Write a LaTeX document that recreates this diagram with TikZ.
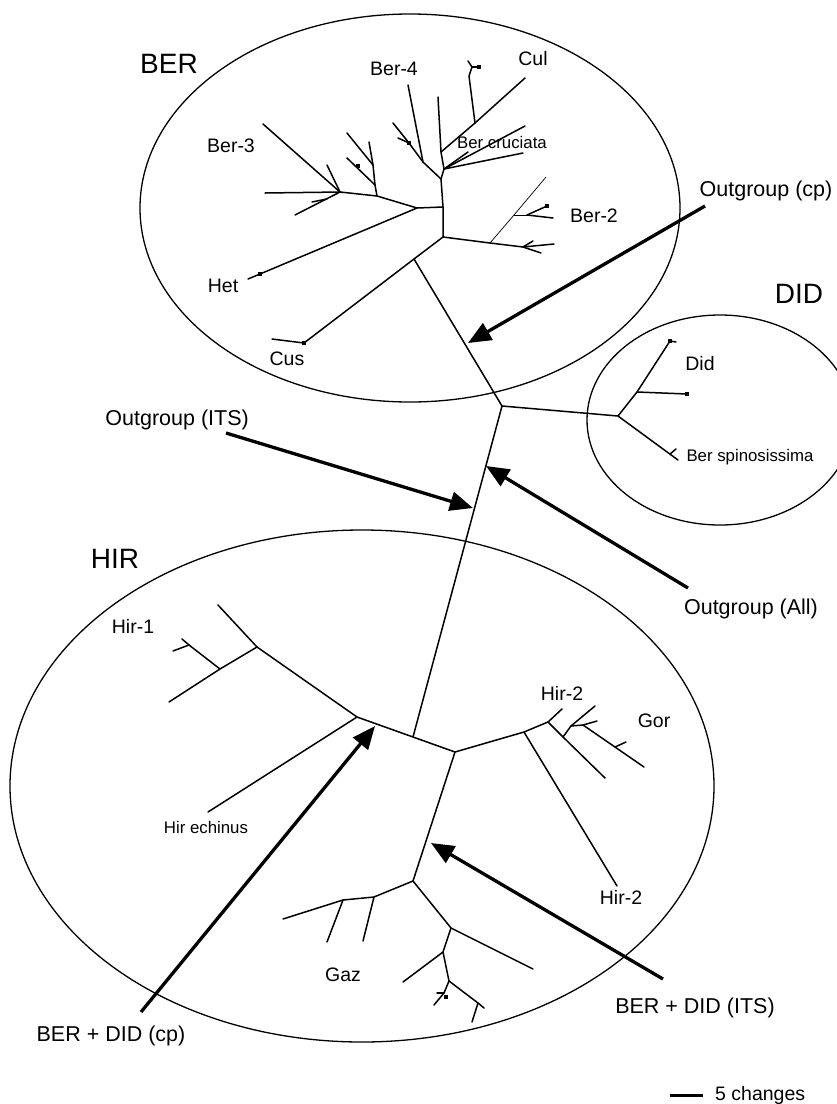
\documentclass[tikz,border=0pt]{standalone}
\usepackage{fontspec}
\setmainfont{Liberation Sans}
\usetikzlibrary{arrows.meta}
\begin{document}
\begin{tikzpicture}[x=1pt,y=-1pt,
  br/.style={line width=1.5pt, line cap=round, line join=round},
  thinbr/.style={line width=0.7pt},
  grp/.style={line width=1.3pt},
  bigarrow/.style={line width=3.3pt, -{Triangle[length=23pt,width=19pt]}},
  biglab/.style={font=\fontsize{28}{30}\selectfont, inner sep=0pt, anchor=base},
  arrlab/.style={font=\fontsize{21.5}{24}\selectfont, inner sep=0pt, anchor=base},
  leaflab/.style={font=\fontsize{19.5}{22}\selectfont, inner sep=0pt, anchor=base},
  smalllab/.style={font=\fontsize{16.8}{19}\selectfont, inner sep=0pt, anchor=base},
  tipdot/.style={fill, inner sep=0pt, minimum size=3.4pt, rectangle},
]
\useasboundingbox (0,0) rectangle (837,1104);

% group ellipses
\draw[grp] (410,208) ellipse [x radius=270pt, y radius=194pt];
\draw[grp] (720,420) ellipse [x radius=133pt, y radius=105pt];
\draw[grp] (362,786) ellipse [x radius=352pt, y radius=256pt];

% ---------- BER tree ----------
\coordinate (R) at (502,406);
\coordinate (C1) at (414,259);
\coordinate (CusD) at (304,343);
\coordinate (CusE) at (272,339);
\coordinate (B0) at (443,237);
\coordinate (BH) at (443,207);
\coordinate (B1) at (441,179);
\coordinate (Bq) at (423,162);
\coordinate (Ber4E) at (408,85);
\coordinate (BqT) at (409,143);
\coordinate (BqE) at (393,123);
\coordinate (BqTk) at (398,138);
\coordinate (Bc) at (444,169);
\coordinate (BcE1) at (525,126);
\coordinate (BcE2) at (468,152);
\coordinate (BcE3) at (523,153);
\coordinate (Bd) at (441,152);
\coordinate (BdE) at (438,97);
\coordinate (Cn) at (475,123);
\coordinate (CulE) at (525,78);
\coordinate (Cs) at (469,76);
\coordinate (Cs2) at (472,67);
\coordinate (CsE1) at (468,61);
\coordinate (CsE2) at (479,67);
\coordinate (A0) at (417,208);
\coordinate (HetD) at (260,274);
\coordinate (HetE) at (248,279);
\coordinate (A1) at (377,196);
\coordinate (A3) at (375,185);
\coordinate (A2) at (373,165);
\coordinate (A2E1) at (347,133);
\coordinate (A2E2) at (369,142);
\coordinate (A3E) at (347,158);
\coordinate (A3D) at (358,166);
\coordinate (A4) at (340,192);
\coordinate (Ber3E) at (263,124);
\coordinate (A4E2) at (265,193);
\coordinate (A4E3) at (295,215);
\coordinate (A4E4) at (327,165);
\coordinate (A4T) at (327,199);
\coordinate (A4TE) at (312,202);
\coordinate (B2n) at (490,243);
\coordinate (B2a) at (523,247);
\coordinate (B2aE1) at (554,244);
\coordinate (B2aE2) at (541,253);
\coordinate (B2aT) at (533,241);
\coordinate (B2T) at (546,177);
\coordinate (B2b) at (514,215);
\coordinate (B2c) at (527,215);
\coordinate (B2cE1) at (553,218);
\coordinate (B2cE2) at (547,206);

\draw[br] (R) -- (C1) -- (B0) -- (BH) -- (B1) -- (Bc) -- (Bd) -- (BdE);
\draw[br] (C1) -- (CusD) -- (CusE);
\draw[br] (B1) -- (Bq) -- (BqT) -- (BqE);
\draw[br] (Bq) -- (Ber4E);
\draw[br] (BqT) -- (BqTk);
\draw[br] (Bc) -- (BcE1);
\draw[br] (Bc) -- (BcE2);
\draw[br] (Bc) -- (BcE3);
\draw[br] (Bd) -- (Cn) -- (CulE);
\draw[br] (Cn) -- (Cs) -- (Cs2) -- (CsE1);
\draw[br] (Cs2) -- (CsE2);
\draw[br] (BH) -- (A0) -- (HetD) -- (HetE);
\draw[br] (A0) -- (A1) -- (A4);
\draw[br] (A1) -- (A3) -- (A2) -- (A2E1);
\draw[br] (A2) -- (A2E2);
\draw[br] (A3) -- (A3E);
\draw[br] (A4) -- (Ber3E);
\draw[br] (A4) -- (A4E2);
\draw[br] (A4) -- (A4E3);
\draw[br] (A4) -- (A4E4);
\draw[br] (A4T) -- (A4TE);
\draw[br] (B0) -- (B2n) -- (B2a) -- (B2aE1);
\draw[br] (B2a) -- (B2aE2);
\draw[br] (B2a) -- (B2aT);
\draw[thinbr] (B2n) -- (B2b) -- (B2T);
\draw[thinbr] (B2b) -- (B2c);
\draw[br] (B2c) -- (B2cE1);
\draw[br] (B2c) -- (B2cE2);
\node[tipdot] at (CusD) {};
\node[tipdot] at (HetD) {};
\node[tipdot] at (A3D) {};
\node[tipdot] at (BqT) {};
\node[tipdot] at (CsE2) {};
\node[tipdot] at (B2cE2) {};

% ---------- DID tree ----------
\coordinate (D0) at (618,416);
\coordinate (Dn) at (637,392);
\coordinate (DidE1) at (670,341);
\coordinate (DidE1t) at (676,342);
\coordinate (DidE2) at (687,394);
\coordinate (BspE) at (678,460);
\coordinate (BspT) at (670,454);
\coordinate (BspTE) at (676,449);
\draw[br] (R) -- (D0) -- (Dn) -- (DidE1) -- (DidE1t);
\draw[br] (Dn) -- (DidE2);
\draw[br] (D0) -- (BspE);
\draw[br] (BspT) -- (BspTE);
\node[tipdot] at (DidE2) {};
\node[tipdot] at (DidE1) {};

% ---------- trunk and HIR tree ----------
\coordinate (T) at (413,737);
\coordinate (H2) at (357,717);
\coordinate (HechE) at (208,812);
\coordinate (H1) at (257,647);
\coordinate (Hir1E) at (218,605);
\coordinate (H1b) at (220,669);
\coordinate (H1bE) at (169,702);
\coordinate (H1c) at (189,645);
\coordinate (H1cE) at (182,639);
\coordinate (H1cT) at (173,651);
\coordinate (H3) at (455,752);
\coordinate (Hr) at (524,732);
\coordinate (Hir2E) at (617,886);
\coordinate (Hs) at (548,722);
\coordinate (HsE) at (562,709);
\coordinate (G0) at (563,737);
\coordinate (G0E) at (605,778);
\coordinate (G1) at (571,726);
\coordinate (G1E) at (595,706);
\coordinate (G2) at (583,725);
\coordinate (G2T) at (597,721);
\coordinate (GorT) at (615,747);
\coordinate (GorTE) at (626,742);
\coordinate (GorE) at (644,767);
\coordinate (N1) at (413,881);
\coordinate (N2) at (374,897);
\coordinate (N3) at (343,900);
\coordinate (N3E1) at (283,919);
\coordinate (N3E2) at (327,942);
\coordinate (N2E) at (363,941);
\coordinate (N4) at (451,928);
\coordinate (N4E) at (533,969);
\coordinate (N5) at (443,952);
\coordinate (N5E) at (403,982);
\coordinate (N6) at (449,981);
\coordinate (N7) at (478,1003);
\coordinate (N7E1) at (484,1008);
\coordinate (N7E2) at (472,1022);
\coordinate (N8) at (444,993);
\coordinate (N8E) at (434,1005);
\coordinate (N8T) at (437,993);
\coordinate (N8D) at (446,997);

\draw[br] (R) -- (T) -- (H2) -- (HechE);
\draw[br] (H2) -- (H1) -- (Hir1E);
\draw[br] (H1) -- (H1b) -- (H1bE);
\draw[br] (H1b) -- (H1c) -- (H1cE);
\draw[br] (H1c) -- (H1cT);
\draw[br] (T) -- (H3) -- (Hr) -- (Hir2E);
\draw[br] (Hr) -- (Hs) -- (HsE);
\draw[br] (Hs) -- (G0) -- (G0E);
\draw[br] (G0) -- (G1) -- (G1E);
\draw[br] (G1) -- (G2) -- (G2T);
\draw[br] (G2) -- (GorE);
\draw[br] (GorT) -- (GorTE);
\draw[br] (H3) -- (N1) -- (N2) -- (N3) -- (N3E1);
\draw[br] (N3) -- (N3E2);
\draw[br] (N2) -- (N2E);
\draw[br] (N1) -- (N4) -- (N4E);
\draw[br] (N4) -- (N5) -- (N5E);
\draw[br] (N5) -- (N6) -- (N7) -- (N7E1);
\draw[br] (N7) -- (N7E2);
\draw[br] (N6) -- (N8) -- (N8E);
\draw[br] (N8) -- (N8T);
\node[tipdot] at (N8D) {};

% ---------- labels ----------
\node[biglab] (lBER) at (169,73) {BER};
\node[biglab] (lDID) at (799,303) {DID};
\node[biglab] (lHIR) at (115,568) {HIR};
\node[leaflab] (lBer4) at (394,75) {Ber-4};
\node[leaflab] (lCul) at (533,65) {Cul};
\node[leaflab] (lBer3) at (231,152) {Ber-3};
\node[smalllab] (lBcr) at (502,148) {Ber cruciata};
\node[leaflab] (lBer2) at (594,222) {Ber-2};
\node[leaflab] (lHet) at (223,292) {Het};
\node[leaflab] (lCus) at (287,365) {Cus};
\node[leaflab] (lDid) at (700,370) {Did};
\node[smalllab] (lBsp) at (750,461) {Ber spinosissima};
\node[leaflab] (lHir1) at (133,633) {Hir-1};
\node[smalllab] (lHech) at (206,833) {Hir echinus};
\node[leaflab] (lHir2a) at (562,700) {Hir-2};
\node[leaflab] (lGor) at (654,727) {Gor};
\node[leaflab] (lGaz) at (343,981) {Gaz};
\node[leaflab] (lHir2b) at (621,904) {Hir-2};

\node[arrlab] (lOcp) at (766,196) {Outgroup (cp)};
\node[arrlab, anchor=base east] (lOits) at (249,425) {Outgroup (ITS)};
\node[arrlab] (lOall) at (751,614) {Outgroup (All)};
\node[arrlab] (lBits) at (695,1013) {BER + DID (ITS)};
\node[arrlab] (lBcp) at (111,1041) {BER + DID (cp)};

% ---------- arrows ----------
\coordinate (OcpT) at (705,206);  \coordinate (OcpH) at (468,343);
\coordinate (OitsT) at (226,433); \coordinate (OitsH) at (473,508);
\coordinate (OallT) at (688,588); \coordinate (OallH) at (486,466);
\coordinate (BcpT) at (141,1012); \coordinate (BcpH) at (375,726);
\coordinate (BitsT) at (663,979); \coordinate (BitsH) at (431,843);
\draw[bigarrow] (OcpT) -- (OcpH);
\draw[bigarrow] (OitsT) -- (OitsH);
\draw[bigarrow] (OallT) -- (OallH);
\draw[bigarrow] (BcpT) -- (BcpH);
\draw[bigarrow] (BitsT) -- (BitsH);

% ---------- scale bar ----------
\coordinate (SbA) at (670,1095);
\coordinate (SbB) at (703,1095);
\draw[line width=3pt] (SbA) -- (SbB);
\node[leaflab, anchor=base west] (lScale) at (715,1100) {5 changes};
\end{tikzpicture}
\end{document}
